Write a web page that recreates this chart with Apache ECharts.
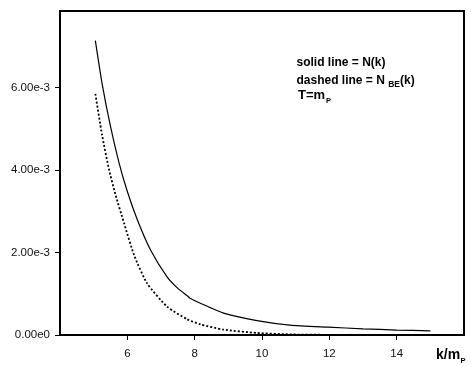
<!DOCTYPE html>
<html>
<head>
<meta charset="utf-8">
<script src="https://cdn.jsdelivr.net/npm/echarts@6/dist/echarts.min.js"></script>
<style>
html,body{margin:0;padding:0;background:#fff;}
#chart{width:471px;height:366px;}
</style>
</head>
<body>
<div id="chart"></div>
<script>
// k / m_P values and N values
var kSolid = [5.05, 5.25, 5.5, 5.75, 6.0, 6.3, 6.69, 7.18, 7.5, 7.78, 7.85, 8.17, 8.86, 9.85, 10.83, 11.96, 13.0, 14.0, 15.0];
var nSolid = [7.14e-3, 6.1e-3, 5.06e-3, 4.19e-3, 3.48e-3, 2.79e-3, 2.06e-3, 1.41e-3, 1.13e-3, 0.95e-3, 0.9e-3, 0.77e-3, 0.53e-3, 0.35e-3, 0.24e-3, 0.19e-3, 0.15e-3, 0.12e-3, 0.10e-3];
var kDashed = [5.05, 5.25, 5.46, 5.65, 5.9, 6.2, 6.59, 7.18, 7.78, 8.17, 8.86, 9.85, 10.83, 12.0, 15.0];
var nDashed = [5.85e-3, 4.85e-3, 4.0e-3, 3.4e-3, 2.72e-3, 1.94e-3, 1.25e-3, 0.69e-3, 0.38e-3, 0.26e-3, 0.13e-3, 0.05e-3, 0.015e-3, 0.004e-3, 0.0];
var xTicks = [6, 8, 10, 12, 14];
var yTicks = [0, 0.002, 0.004, 0.006];

var FONT = '"Liberation Sans", Arial, Helvetica, sans-serif';
var chart = echarts.init(document.getElementById('chart'));

var ctx = document.createElement('canvas').getContext('2d');
function w(t, size) { ctx.font = 'bold ' + size + 'px ' + FONT; return ctx.measureText(t).width; }

var tx = 296.5;
var l2a = 'dashed line = N ';
var l3a = 'T=m';
var axA = 'k/m';
var axX = 436;

function zip(a, b) { return a.map(function (v, i) { return [v, b[i]]; }); }

chart.setOption({
  animation: false,
  backgroundColor: '#fff',
  grid: { left: 60, right: 7, top: 11, bottom: 31, show: true, borderColor: '#000', borderWidth: 2 },
  xAxis: {
    type: 'value', min: 4, max: 16,
    axisLine: { lineStyle: { color: '#000', width: 2 } },
    axisTick: { show: true, length: 5, customValues: xTicks, lineStyle: { color: '#000', width: 1 } },
    axisLabel: { customValues: xTicks, margin: 13, color: '#111', fontSize: 11.5, fontFamily: FONT },
    splitLine: { show: false }
  },
  yAxis: {
    type: 'value', min: 0, max: 0.00786, interval: 0.002,
    axisLine: { show: true, lineStyle: { color: '#000', width: 2 } },
    axisTick: { show: true, length: 5, customValues: yTicks, lineStyle: { color: '#000', width: 1 } },
    axisLabel: {
      customValues: yTicks, margin: 10, color: '#111', fontSize: 11.5, fontFamily: FONT,
      formatter: function (v) { return v === 0 ? '0.00e0' : (v * 1000).toFixed(2) + 'e-3'; }
    },
    splitLine: { show: false }
  },
  series: [
    { type: 'line', data: zip(kSolid, nSolid), showSymbol: false, smooth: 0.2,
      lineStyle: { color: '#000', width: 1.2, type: 'solid' } },
    { type: 'line', data: zip(kDashed, nDashed), showSymbol: false, smooth: 0.2,
      lineStyle: { color: '#000', width: 1.8, type: [2, 2] } }
  ],
  graphic: [
    { type: 'text', left: tx, top: 57, style: { text: 'solid line = N(k)', font: 'bold 12px ' + FONT, fill: '#000' } },
    { type: 'text', left: tx, top: 74.5, style: { text: l2a, font: 'bold 12px ' + FONT, fill: '#000' } },
    { type: 'text', left: tx + w(l2a, 12), top: 80.5, style: { text: 'BE', font: 'bold 8.5px ' + FONT, fill: '#000' } },
    { type: 'text', left: tx + w(l2a, 12) + w('BE', 8.5), top: 74.5, style: { text: '(k)', font: 'bold 12px ' + FONT, fill: '#000' } },
    { type: 'text', left: tx + 1.5, top: 89, style: { text: l3a, font: 'bold 13px ' + FONT, fill: '#000' } },
    { type: 'text', left: tx + 1.5 + w(l3a, 13) + 1, top: 97, style: { text: 'P', font: 'bold 7.5px ' + FONT, fill: '#000' } },
    { type: 'text', left: axX, top: 348, style: { text: axA, font: 'bold 14px ' + FONT, fill: '#000' } },
    { type: 'text', left: axX + w(axA, 14) + 0.5, top: 356.5, style: { text: 'P', font: 'bold 7.5px ' + FONT, fill: '#000' } }
  ]
});
</script>
</body>
</html>
